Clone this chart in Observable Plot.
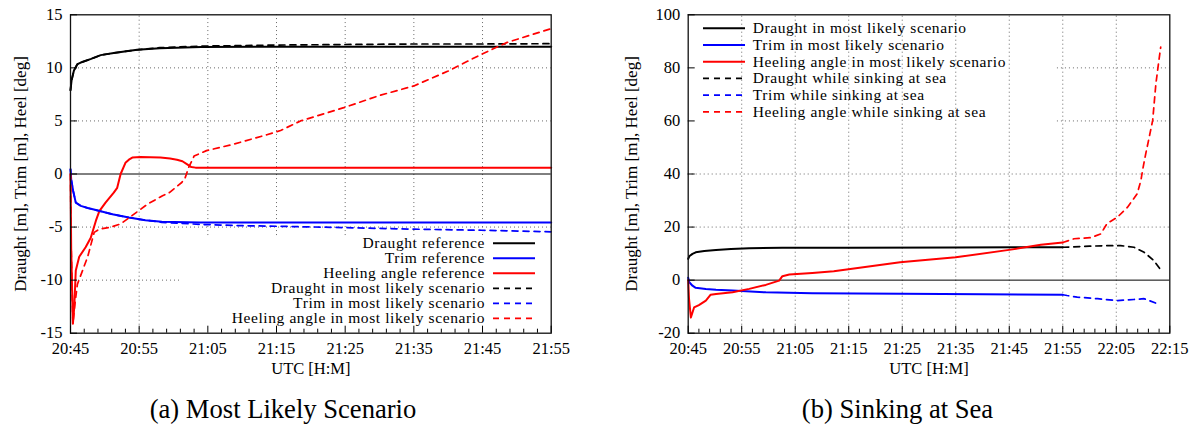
<!DOCTYPE html>
<html>
<head>
<meta charset="utf-8">
<script src="https://cdn.jsdelivr.net/npm/d3@7"></script>
<script src="https://cdn.jsdelivr.net/npm/@observablehq/plot@0.6"></script>
<style>
  html, body { margin: 0; padding: 0; background: #fff; }
  #wrap { position: relative; width: 1193px; height: 425px; overflow: hidden; font-family: "Liberation Serif", "Times New Roman", serif; }
  #wrap > svg, #wrap > figure { position: absolute; top: 0; margin: 0; }
</style>
</head>
<body>
<div id="wrap"></div>
<script>
// ---------------- DATA ----------------
// time in minutes after 20:45 UTC
// Panel (a) Most Likely Scenario
const xTicksA = [0, 10, 20, 30, 40, 50, 60, 70];
const xLabelsA = ["20:45", "20:55", "21:05", "21:15", "21:25", "21:35", "21:45", "21:55"];
const yTicksA = [-15, -10, -5, 0, 5, 10, 15];

const tDraughtRefA = [0, 0.15, 0.5, 1, 1.5, 3, 4.4, 6.3, 9.7, 13, 19, 30, 50, 70];
const draughtRefA  = [7.9, 8.8, 9.75, 10.35, 10.5, 10.85, 11.2, 11.4, 11.7, 11.85, 11.97, 12.0, 12.0, 12.0];

const tDraughtMLA = [0, 0.15, 0.5, 1, 1.5, 3, 4.4, 6.3, 9.7, 13, 19, 25, 30, 40, 50, 60, 70];
const draughtMLA  = [7.9, 8.8, 9.75, 10.35, 10.5, 10.85, 11.2, 11.4, 11.7, 11.9, 12.05, 12.1, 12.15, 12.2, 12.25, 12.25, 12.28];

const tTrimRefA = [0, 0.1, 0.39, 0.77, 1.5, 2.5, 3.7, 6.1, 8.5, 10.9, 13.3, 18.9, 30, 50, 70];
const trimRefA  = [0.45, -0.5, -1.6, -2.7, -3.0, -3.2, -3.4, -3.8, -4.1, -4.35, -4.5, -4.57, -4.58, -4.58, -4.58];

const tTrimMLA = [0, 0.1, 0.39, 0.77, 1.5, 2.5, 3.7, 6.1, 8.5, 10.9, 13.3, 18.9, 25, 30.6, 39.8, 50, 59.9, 70];
const trimMLA  = [0.45, -0.5, -1.6, -2.7, -3.0, -3.2, -3.4, -3.8, -4.1, -4.35, -4.55, -4.75, -4.87, -4.93, -5.05, -5.2, -5.3, -5.45];

const tHeelRefA = [0, 0.1, 0.35, 0.55, 0.77, 1.27, 2.2, 2.95, 3.7, 4.2, 5.1, 6.3, 6.8, 7.3, 8.0, 8.5, 9.0, 10.2, 13.1, 14.5, 15.5, 16.3, 17.0, 17.6, 18.2, 30, 50, 70];
const heelRefA  = [0, -7, -14.1, -12.5, -9.1, -7.8, -6.9, -6.0, -4.4, -3.5, -2.7, -1.75, -1.3, 0, 1.05, 1.35, 1.55, 1.6, 1.55, 1.45, 1.35, 1.2, 0.9, 0.65, 0.6, 0.6, 0.6, 0.6];

const tHeelMLA = [0, 0.1, 0.35, 0.6, 1.0, 1.75, 2.5, 3.45, 4.2, 5.9, 7.3, 9.0, 11.2, 13.4, 14.4, 16.2, 16.7, 17.2, 18.0, 19.8, 23.7, 28.6, 30.6, 33.5, 39.8, 45, 50, 55, 59.9, 63.6, 70];
const heelMLA  = [0, -7, -14.1, -12.5, -10.4, -9.1, -7.8, -5.5, -5.2, -5.0, -4.7, -3.9, -2.85, -2.05, -1.75, -0.8, -0.35, 0.6, 1.7, 2.2, 2.8, 3.7, 4.1, 5.0, 6.25, 7.4, 8.3, 9.7, 11.3, 12.4, 13.7];

const legendA = ["Draught reference", "Trim reference", "Heeling angle reference",
  "Draught in most likely scenario", "Trim in most likely scenario", "Heeling angle in most likely scenario"];

// Panel (b) Sinking at Sea
const xTicksB = [0, 10, 20, 30, 40, 50, 60, 70, 80, 90];
const xLabelsB = ["20:45", "20:55", "21:05", "21:15", "21:25", "21:35", "21:45", "21:55", "22:05", "22:15"];
const yTicksB = [-20, 0, 20, 40, 60, 80, 100];

const tDraughtMLB = [0, 0.2, 0.8, 1.4, 3, 5.2, 8, 11.4, 17.6, 30, 50, 70];
const draughtMLB  = [8.0, 9.0, 9.9, 10.5, 11.0, 11.4, 11.7, 12.0, 12.2, 12.25, 12.3, 12.4];

const tTrimMLB = [0, 0.2, 0.8, 1.4, 3.3, 5.2, 8.3, 14.5, 23.2, 40, 55, 70];
const trimMLB  = [0.9, -0.8, -2.1, -2.9, -3.3, -3.6, -3.9, -4.6, -4.9, -5.1, -5.3, -5.5];

const tHeelMLB = [0, 0.15, 0.5, 1.1, 2.0, 3.3, 4.2, 5.2, 8.3, 11.4, 14.5, 17.0, 17.6, 18.9, 23.2, 27.2, 39.6, 50, 60.3, 65.9, 70];
const heelMLB  = [0, -7, -14.1, -10.3, -9.4, -7.7, -5.5, -5.2, -4.6, -3.3, -1.8, -0.2, 1.5, 2.1, 2.7, 3.35, 6.75, 8.6, 11.5, 13.3, 14.2];

const tDraughtSinkB = [70, 71.5, 75, 78.3, 80.8, 83.3, 85.2, 87.0, 88.3];
const draughtSinkB  = [12.4, 12.5, 12.8, 13.0, 13.0, 12.4, 10.5, 7.4, 3.9];

const tTrimSinkB = [70, 70.8, 72.7, 76.5, 80.2, 83.3, 85.2, 87.7];
const trimSinkB  = [-5.5, -5.8, -6.4, -7.0, -7.7, -7.3, -7.0, -8.9];

const tHeelSinkB = [70, 72.1, 75.2, 77.1, 78.3, 80.2, 82.1, 83.9, 84.6, 84.9, 85.5, 85.9, 86.8, 87.4, 87.8, 88.3];
const heelSinkB  = [14.2, 15.6, 16.0, 17.4, 21.4, 23.7, 27.5, 32.5, 37.5, 41.3, 47.6, 51.4, 60.2, 74, 80.3, 87.8];

const legendB = ["Draught in most likely scenario", "Trim in most likely scenario", "Heeling angle in most likely scenario",
  "Draught while sinking at sea", "Trim while sinking at sea", "Heeling angle while sinking at sea"];

const yLabel = "Draught [m], Trim [m], Heel [deg]";
const xLabel = "UTC [H:M]";
const captions = ["(a) Most Likely Scenario", "(b) Sinking at Sea"];

// ---------------- STYLE ----------------
const FONT = '"Liberation Serif", "Times New Roman", serif';
const BLACK = "#000000", BLUE = "#0000ff", RED = "#ff0000";
const SOLID = 2, DASHW = 1.7, DASH = "6,5";
const seriesStyle = [
  {stroke: BLACK, dash: null}, {stroke: BLUE, dash: null}, {stroke: RED, dash: null},
  {stroke: BLACK, dash: DASH}, {stroke: BLUE, dash: DASH}, {stroke: RED, dash: DASH}
];
const GRID = {stroke: "#6a6a6a", strokeWidth: 1, strokeDasharray: "1,3"};

function line(t, v, s) {
  return Plot.line(v, {x: t, y: v, stroke: s.stroke, strokeWidth: s.dash ? DASHW : SOLID,
    strokeDasharray: s.dash || undefined, curve: "linear", strokeLinejoin: "round"});
}

function minorTicks(max) { return d3.range(0, max + 0.001, 2).filter(d => d % 10 !== 0); }

function commonAxes(xTicks, xLabels, yTicks, xMax) {
  return [
    Plot.frame({stroke: "#111", strokeWidth: 1.3}),
    Plot.axisX(minorTicks(xMax), {tickSize: -4, tickFormat: () => "", label: null}),
    Plot.axisX(xTicks, {tickSize: -7, tickPadding: 16.5, label: null,
      tickFormat: d => xLabels[xTicks.indexOf(d)], fontSize: 16.5}),
    Plot.axisY(yTicks, {tickSize: -7, tickPadding: 15, label: null,
      tickFormat: d => String(d), fontSize: 16.5}),
    Plot.text([xLabel], {frameAnchor: "bottom", dy: 41, text: d => d, fontSize: 16.5}),
  ];
}

function addLegend(svg, labels, {textX, x0, x1, y0, step, anchor}) {
  const g = d3.select(svg).append("g").attr("font-family", FONT)
    .attr("font-size", 15.5).attr("letter-spacing", "0.6px");
  labels.forEach((lab, i) => {
    const y = y0 + i * step, s = seriesStyle[i];
    g.append("line").attr("x1", x0).attr("x2", x1).attr("y1", y).attr("y2", y)
      .attr("stroke", s.stroke).attr("stroke-width", s.dash ? DASHW : SOLID)
      .attr("stroke-dasharray", s.dash);
    g.append("text").attr("x", textX).attr("y", y).attr("dy", "0.32em")
      .attr("text-anchor", anchor).attr("fill", "#000").text(lab);
  });
}

const wrap = document.getElementById("wrap");

// ---------------- PANEL A ----------------
const plotA = Plot.plot({
  width: 560, height: 390,
  marginLeft: 70, marginRight: 9.3, marginTop: 14.3, marginBottom: 57.3,
  style: {fontFamily: FONT, fontSize: "16.5px", color: "#000", background: "transparent", overflow: "visible"},
  x: {domain: [0, 70]},
  y: {domain: [-15, 15]},
  marks: [
    Plot.ruleX([10], {y1: -15, y2: 15, ...GRID}),
    Plot.ruleX([20, 30, 40, 50, 60], {y1: -5.8, y2: 15, ...GRID}),
    Plot.ruleY([5, 10, -5], {x1: 0, x2: 70, ...GRID}),
    Plot.ruleY([-10], {x1: 0, x2: 16, ...GRID}),
    Plot.ruleY([0], {stroke: "#000", strokeWidth: 1}),
    line(tDraughtRefA, draughtRefA, seriesStyle[0]),
    line(tTrimRefA, trimRefA, seriesStyle[1]),
    line(tHeelRefA, heelRefA, seriesStyle[2]),
    line(tDraughtMLA, draughtMLA, seriesStyle[3]),
    line(tTrimMLA, trimMLA, seriesStyle[4]),
    line(tHeelMLA, heelMLA, seriesStyle[5]),
    ...commonAxes(xTicksA, xLabelsA, yTicksA, 70),
    Plot.text([yLabel], {frameAnchor: "left", dx: -50, rotate: -90, textAnchor: "middle", text: d => d, fontSize: 17}),
  ]
});
plotA.style.left = "0px";
wrap.appendChild(plotA);
addLegend(plotA, legendA, {textX: 485, x0: 493, x1: 535, y0: 243.3, step: 15, anchor: "end"});

// ---------------- PANEL B ----------------
const offB = 612;
const plotB = Plot.plot({
  width: 581, height: 390,
  marginLeft: 75.7, marginRight: 23.7, marginTop: 14.3, marginBottom: 57.3,
  style: {fontFamily: FONT, fontSize: "16.5px", color: "#000", background: "transparent", overflow: "visible"},
  x: {domain: [0, 90]},
  y: {domain: [-20, 100]},
  marks: [
    Plot.ruleX([10, 20, 30, 40, 50, 60, 70, 80], {y1: -20, y2: 100, ...GRID}),
    Plot.ruleY([20, 40], {x1: 0, x2: 90, ...GRID}),
    Plot.ruleY([60, 80], {x1: 69, x2: 90, ...GRID}),
    Plot.ruleY([0], {stroke: "#000", strokeWidth: 1}),
    line(tDraughtSinkB, draughtSinkB, seriesStyle[3]),
    line(tTrimSinkB, trimSinkB, seriesStyle[4]),
    line(tHeelSinkB, heelSinkB, seriesStyle[5]),
    line(tDraughtMLB, draughtMLB, seriesStyle[0]),
    line(tTrimMLB, trimMLB, seriesStyle[1]),
    line(tHeelMLB, heelMLB, seriesStyle[2]),
    ...commonAxes(xTicksB, xLabelsB, yTicksB, 90),
    Plot.text([yLabel], {frameAnchor: "left", dx: -57, rotate: -90, textAnchor: "middle", text: d => d, fontSize: 17}),
  ]
});
plotB.style.left = offB + "px";
wrap.appendChild(plotB);
addLegend(plotB, legendB, {textX: 752.7 - offB, x0: 703 - offB, x1: 745 - offB, y0: 28.3, step: 16.7, anchor: "start"});

// ---------------- CAPTIONS ----------------
const capSvg = d3.select(wrap).append("svg")
  .attr("width", 1193).attr("height", 425)
  .style("left", "0px").style("pointer-events", "none");
capSvg.selectAll("text").data(captions).join("text")
  .attr("x", (d, i) => [283, 897.5][i]).attr("y", 418)
  .attr("text-anchor", "middle").attr("font-family", FONT).attr("font-size", 26.6)
  .attr("fill", "#000").text(d => d);
</script>
</body>
</html>
